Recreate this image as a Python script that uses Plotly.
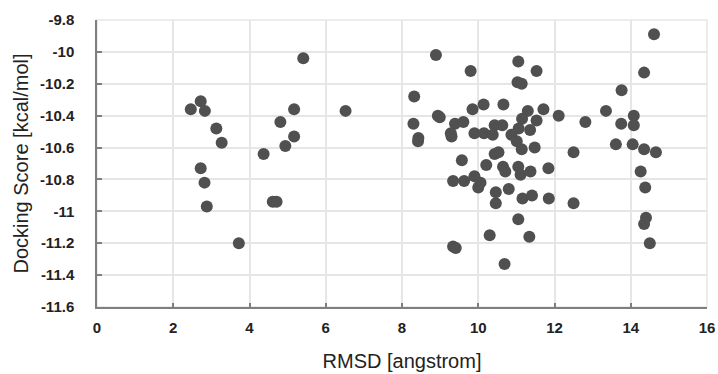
import plotly.graph_objects as go

rmsd = [
    2.46, 2.72, 2.83, 3.13, 3.27, 2.72, 2.82, 2.88, 3.72, 4.37, 4.61, 4.71,
    4.81, 4.94, 5.17, 5.17, 5.41, 6.52,
    14.61, 8.89, 9.80, 11.05, 11.53, 11.03, 11.14, 14.35, 13.76, 8.32,
    9.85, 10.14, 10.66, 11.30, 11.71, 12.11, 13.35, 14.08, 8.94, 8.99,
    8.30, 12.81, 13.75, 14.08, 9.39, 9.61, 9.28, 9.30, 9.90, 10.15,
    10.38, 10.43, 10.63, 11.15, 11.53, 11.06, 11.36, 10.87, 11.01, 11.14,
    11.48, 8.43, 8.42, 12.50, 13.61, 14.05, 14.35, 14.66, 10.43, 10.53,
    9.57, 10.21, 10.65, 10.71, 11.05, 11.11, 11.37, 11.84, 14.26, 9.34,
    9.63, 9.90, 10.06, 10.00, 10.46, 10.80, 10.46, 11.16, 11.41, 11.85,
    12.50, 14.38, 11.05, 14.40, 14.35, 10.30, 11.34, 14.50, 9.34, 9.41,
    10.69,
]
score = [
    -10.36, -10.31, -10.37, -10.48, -10.57, -10.73, -10.82, -10.97, -11.20,
    -10.64, -10.94, -10.94, -10.44, -10.59, -10.36, -10.53, -10.04, -10.37,
    -9.89, -10.02, -10.12, -10.06, -10.12, -10.19, -10.20, -10.13, -10.24,
    -10.28, -10.36, -10.33, -10.33, -10.37, -10.36, -10.40, -10.37, -10.40,
    -10.40, -10.41, -10.45, -10.44, -10.45, -10.46, -10.45, -10.44, -10.51,
    -10.53, -10.51, -10.51, -10.52, -10.46, -10.46, -10.42, -10.43, -10.48,
    -10.49, -10.52, -10.56, -10.61, -10.60, -10.54, -10.56, -10.63, -10.58,
    -10.58, -10.61, -10.63, -10.64, -10.63, -10.68, -10.71, -10.72, -10.75,
    -10.72, -10.77, -10.75, -10.73, -10.75, -10.81, -10.81, -10.78, -10.82,
    -10.85, -10.88, -10.86, -10.95, -10.92, -10.90, -10.92, -10.95, -10.85,
    -11.05, -11.04, -11.08, -11.15, -11.16, -11.20, -11.22, -11.23, -11.33,
]

x_ticks = [0, 2, 4, 6, 8, 10, 12, 14, 16]
y_ticks = [-9.8, -10.0, -10.2, -10.4, -10.6, -10.8, -11.0, -11.2, -11.4, -11.6]
y_labels = ["-9.8", "-10", "-10.2", "-10.4", "-10.6", "-10.8", "-11", "-11.2", "-11.4", "-11.6"]

fig = go.Figure(go.Scatter(
    x=rmsd, y=score, mode="markers",
    marker=dict(size=12, color="#505050", line=dict(width=0)),
))

tick_font = dict(family="Liberation Sans, Arial, sans-serif", size=15, color="#222222", weight="bold")
title_font = dict(family="Liberation Sans, Arial, sans-serif", size=20, color="#222222")

fig.update_layout(
    width=718, height=374,
    margin=dict(l=97, r=11, t=20, b=67),
    paper_bgcolor="white", plot_bgcolor="white",
    showlegend=False,
    xaxis=dict(
        range=[0, 16], tickvals=x_ticks, ticktext=[str(v) for v in x_ticks],
        showgrid=True, gridcolor="#e6e6e6", gridwidth=1.5,
        showline=True, linecolor="#7f7f7f", linewidth=1.5,
        ticks="inside", ticklen=4, tickcolor="#7f7f7f", tickwidth=1.5,
        tickfont=tick_font, ticklabelstandoff=6, ticklabeloverflow="allow",
        title=dict(text="RMSD [angstrom]", font=title_font, standoff=19),
        zeroline=False, automargin=False,
    ),
    yaxis=dict(
        range=[-11.6, -9.8], tickvals=y_ticks, ticktext=y_labels,
        showgrid=True, gridcolor="#e6e6e6", gridwidth=1.5,
        showline=True, linecolor="#7f7f7f", linewidth=1.5,
        ticks="inside", ticklen=5, tickcolor="#7f7f7f", tickwidth=1.5,
        tickfont=tick_font, ticklabelstandoff=18, ticklabeloverflow="allow",
        title=dict(text="Docking Score [kcal/mol]", font=title_font, standoff=6),
        zeroline=False, automargin=False,
    ),
    shapes=[dict(type="rect", xref="paper", yref="paper", x0=0, x1=1, y0=0, y1=1,
                 line=dict(color="#e6e6e6", width=1.5), layer="below")],
)

fig.write_html("out.html", config={"displayModeBar": False},
               post_script="document.body.style.margin='0';")
